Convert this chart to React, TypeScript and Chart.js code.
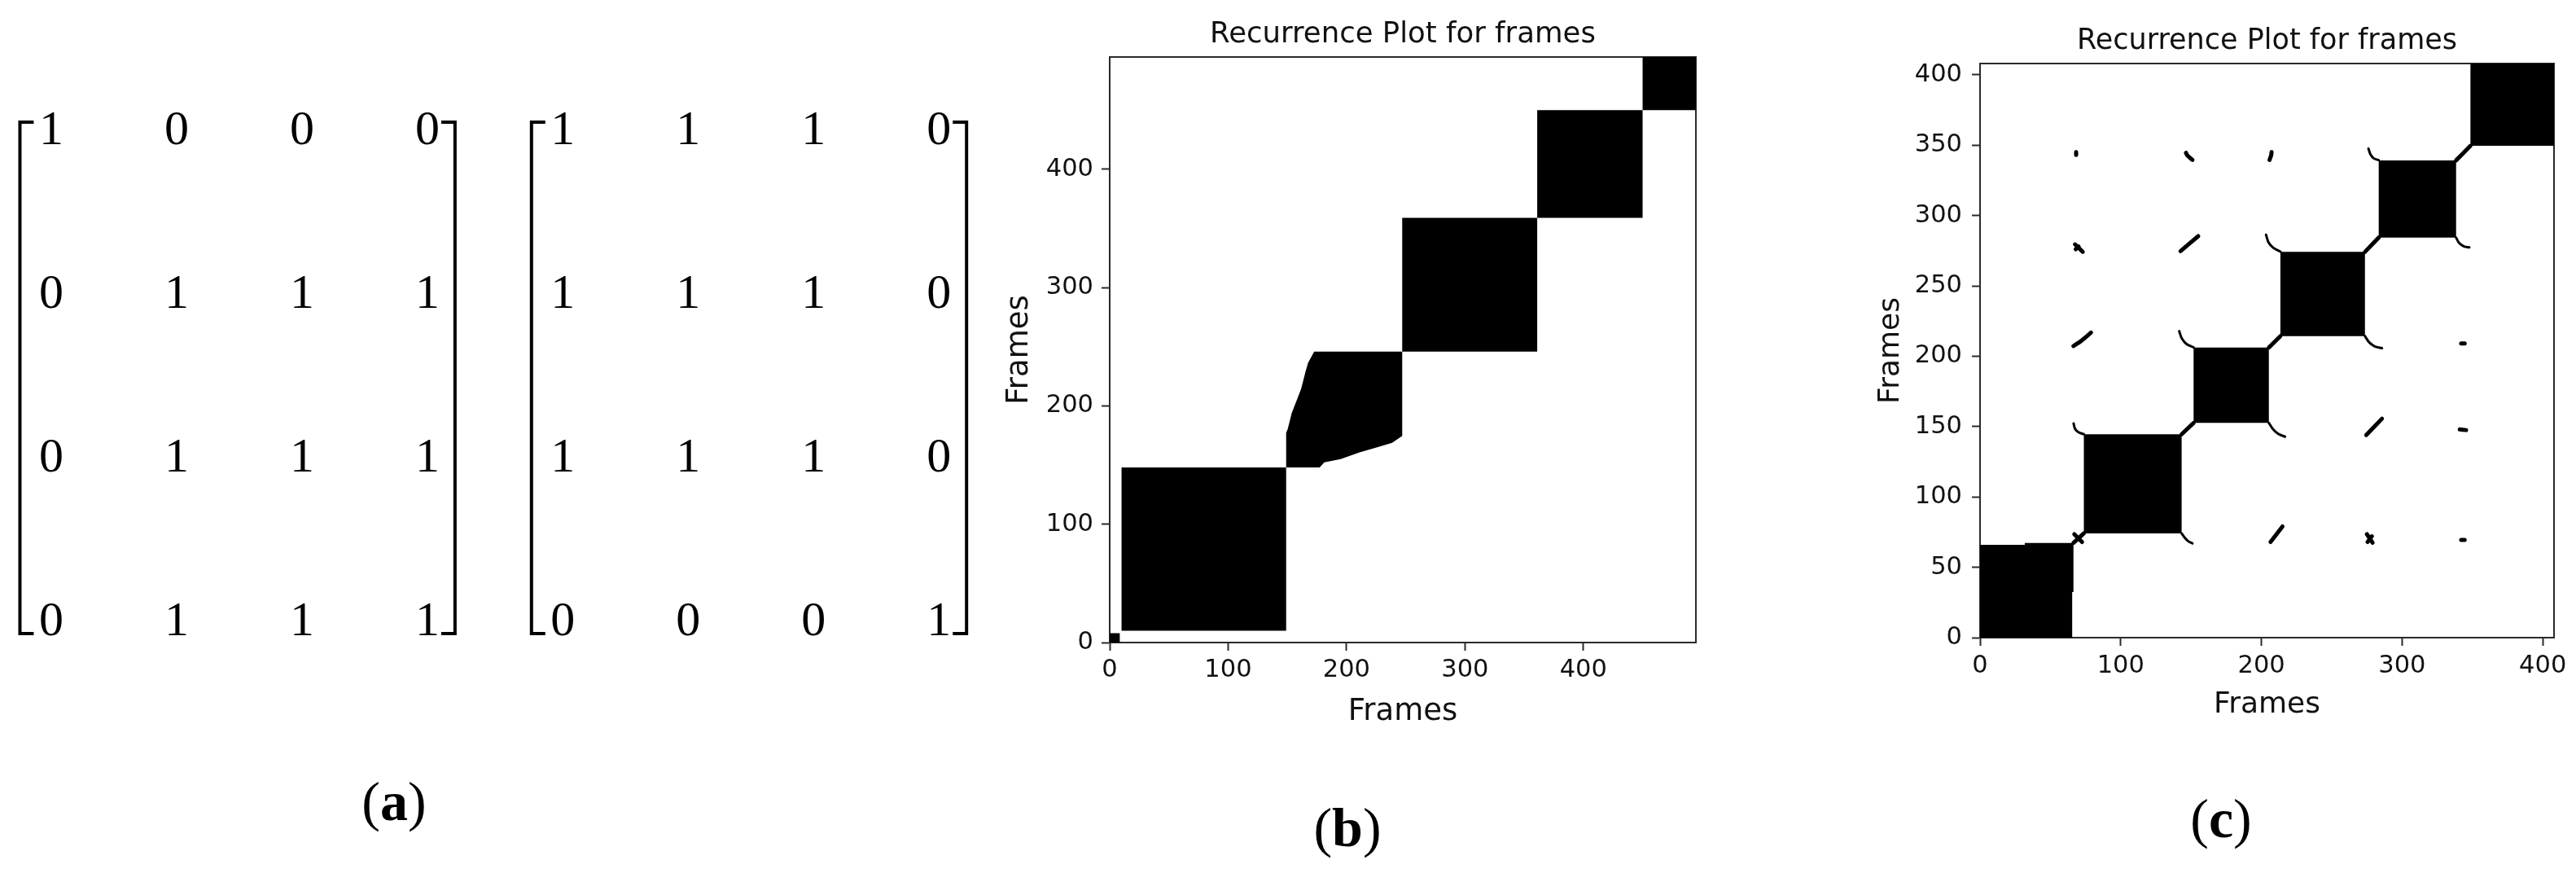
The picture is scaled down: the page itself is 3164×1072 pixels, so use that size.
import React, { useEffect, useRef } from 'react';
import { Chart, registerables } from 'chart.js';

Chart.register(...registerables);

// ---------------- (a) matrices ----------------
const matrixLeft: number[][] = [
  [1, 0, 0, 0],
  [0, 1, 1, 1],
  [0, 1, 1, 1],
  [0, 1, 1, 1],
];
const matrixRight: number[][] = [
  [1, 1, 1, 0],
  [1, 1, 1, 0],
  [1, 1, 1, 0],
  [0, 0, 0, 1],
];

// ---------------- (b) recurrence plot ----------------
const bTitle = 'Recurrence Plot for frames';
const bAxisLabel = 'Frames';
const bFrames = 495;
const bTicksX = [0, 100, 200, 300, 400];
const bTicksY = [0, 100, 200, 300, 400];
// [x0, x1, y0, y1] in frames
const bBlocks: number[][] = [
  [0, 8.5, 0, 8],
  [10, 149, 10, 148],
  [247, 361, 246, 359],
  [361, 450, 359, 450],
  [450, 495, 450, 495],
];
const bIrregular: number[][] = [
  [149, 148], [177.3, 148], [181.2, 152.4], [195, 155.1], [211, 160.8], [227, 165.4],
  [238.5, 168.9], [245, 173.4], [247, 174.5], [247, 246], [172.7, 246], [167.5, 236.4],
  [165.2, 228.4], [161.7, 214.7], [158.2, 205.5], [153.7, 194], [150.3, 180.3], [149, 177.5],
];

// ---------------- (c) recurrence plot ----------------
const cTitle = 'Recurrence Plot for frames';
const cAxisLabel = 'Frames';
const cFrames = 408;
const cTicksX = [0, 100, 200, 300, 400];
const cTicksY = [0, 50, 100, 150, 200, 250, 300, 350, 400];
const cFirstBlock: number[][] = [
  [0, 0], [65.5, 0], [65.5, 32.4], [66.4, 32.4], [66.4, 67.3], [31.8, 67.3], [31.8, 66], [0, 66],
];
const cBlocks: number[][] = [
  [73.8, 143.3, 74.1, 144.5],
  [151.8, 205.3, 152.6, 206.2],
  [213.5, 273.6, 214.3, 274.1],
  [283.4, 338.4, 284.3, 339.2],
  [348.6, 408, 349.5, 408],
];
// thin curved fillets at block corners
const cArcs: number[][][] = [
  [[66.5, 152.2], [67.5, 148.5], [70, 146], [73.8, 144.6]],
  [[143.3, 74.1], [145.5, 71], [148, 68.5], [151, 67]],
  [[141.6, 217.8], [143.5, 212.5], [147, 208.5], [151.8, 206.3]],
  [[205.3, 152.6], [208, 148.5], [212, 144.8], [216.8, 142.8]],
  [[203.3, 286.3], [205, 281], [208.5, 277], [213.5, 274.3]],
  [[273.6, 214.3], [276.5, 210], [280.5, 207], [285.7, 205.7]],
  [[276.1, 347.5], [277.5, 343.5], [280, 340.5], [283.4, 339.3]],
  [[338.4, 284.3], [340.5, 280.5], [344, 278], [347.8, 277.3]],
];
// thicker connectors and off-diagonal specks
const cMarks: number[][][] = [
  [[66.4, 67.3], [73.8, 74.1]],
  [[67, 73.5], [72.5, 68]],
  [[143.3, 144.5], [151.8, 152.6]],
  [[205.3, 206.2], [213.5, 214.3]],
  [[273.6, 274.1], [283.4, 284.3]],
  [[338.4, 339.2], [348.6, 349.5]],
  [[68.3, 345], [68.3, 343]],
  [[146.4, 344.5], [147.5, 342.5], [151, 339.5]],
  [[207.2, 345], [207, 343], [205.8, 339.5]],
  [[67.5, 279.5], [73, 274.2]],
  [[68, 276], [70, 278]],
  [[142.5, 274.7], [155.1, 285.3]],
  [[66.4, 207.2], [72, 211], [78.9, 216.8]],
  [[274.5, 144], [285.7, 155.6]],
  [[341, 148], [345.5, 147.5]],
  [[342, 209], [344.5, 209]],
  [[206.5, 68], [215, 79]],
  [[275, 73.5], [279, 67.5]],
  [[275.5, 68], [278.5, 72]],
  [[342, 69.5], [344.5, 69.5]],
];

// ---------------- helpers ----------------
const INK = '#111111';
const SPINE = '#2a2a2a';
const SANS = '"DejaVu Sans", sans-serif';
const SERIF = '"Liberation Serif", "Times New Roman", serif';

const toPts = (arr: number[][]) => arr.map(([x, y]) => ({ x, y }));
const rectPts = ([x0, x1, y0, y1]: number[]) =>
  toPts([[x0, y0], [x1, y0], [x1, y1], [x0, y1], [x0, y0]]);

function shapeDataset(points: { x: number; y: number }[]) {
  return {
    data: points,
    showLine: true,
    fill: 'shape',
    backgroundColor: '#000',
    borderColor: 'rgba(0,0,0,0)',
    borderWidth: 0,
    pointRadius: 0,
    tension: 0,
  };
}

function strokeDataset(points: { x: number; y: number }[], width: number) {
  return {
    data: points,
    showLine: true,
    fill: false,
    borderColor: '#000',
    backgroundColor: '#000',
    borderWidth: width,
    borderCapStyle: 'round',
    borderJoinStyle: 'round',
    pointRadius: 0,
    tension: 0.3,
  };
}

function plotOptions(p: {
  range: number;
  ticksX: number[];
  ticksY: number[];
  title: string;
  label: string;
  titleSize: number;
  titlePad: { top: number; bottom: number };
  labelSize: number;
  yAxisWidth: number;
  xAxisHeight: number;
  xTickPad: number;
  yTickPad: number;
  xTitlePad: number;
  yTitlePad: number;
  padRight: number;
  padBottom: number;
}) {
  const tickFont = { family: SANS, size: 30.5 };
  const grid = {
    drawOnChartArea: false,
    drawTicks: true,
    tickLength: 10,
    tickWidth: 2,
    tickColor: SPINE,
    color: SPINE,
  };
  const border = { display: true, color: SPINE, width: 2 };
  return {
    animation: false,
    responsive: false,
    events: [],
    layout: { padding: { left: 0, top: 0, right: p.padRight, bottom: p.padBottom } },
    plugins: {
      legend: { display: false },
      tooltip: { enabled: false },
      title: {
        display: true,
        text: p.title,
        fullSize: false,
        color: INK,
        font: { family: SANS, size: p.titleSize, weight: 'normal' },
        padding: p.titlePad,
      },
    },
    scales: {
      x: {
        type: 'linear',
        position: 'bottom',
        min: 0,
        max: p.range,
        afterBuildTicks: (s: any) => {
          s.ticks = p.ticksX.map((v) => ({ value: v }));
        },
        ticks: {
          autoSkip: false,
          maxRotation: 0,
          color: INK,
          font: tickFont,
          padding: p.xTickPad,
        },
        grid,
        border,
        title: {
          display: true,
          text: p.label,
          color: INK,
          font: { family: SANS, size: p.labelSize },
          padding: { top: 0, bottom: p.xTitlePad },
        },
        afterFit: (s: any) => {
          s.height = p.xAxisHeight;
        },
      },
      y: {
        type: 'linear',
        position: 'left',
        min: 0,
        max: p.range,
        afterBuildTicks: (s: any) => {
          s.ticks = p.ticksY.map((v) => ({ value: v }));
        },
        ticks: {
          autoSkip: false,
          color: INK,
          font: tickFont,
          padding: p.yTickPad,
        },
        grid,
        border,
        title: {
          display: true,
          text: p.label,
          color: INK,
          font: { family: SANS, size: p.labelSize },
          padding: { top: p.yTitlePad, bottom: 0 },
        },
        afterFit: (s: any) => {
          s.width = p.yAxisWidth;
        },
      },
      xTop: {
        type: 'linear',
        position: 'top',
        min: 0,
        max: p.range,
        ticks: { display: false },
        grid: { drawOnChartArea: false, drawTicks: false },
        border,
        afterFit: (s: any) => {
          s.height = 0;
        },
      },
      yRight: {
        type: 'linear',
        position: 'right',
        min: 0,
        max: p.range,
        ticks: { display: false },
        grid: { drawOnChartArea: false, drawTicks: false },
        border,
        afterFit: (s: any) => {
          s.width = 0;
        },
      },
    },
  };
}

// ---------------- chart configs ----------------
const A_COL_OFFSET_RIGHT = 4.08; // column index where the second matrix starts
const A_TOP = -0.035;
const A_BOTTOM = 3.09;
const A_PAD_L = 0.25;
const A_PAD_R = 0.22;
const A_HOOK = 0.11;

function bracketPts(offset: number, side: 'l' | 'r') {
  if (side === 'l') {
    const x = offset - A_PAD_L;
    return toPts([[x + A_HOOK, A_TOP], [x, A_TOP], [x, A_BOTTOM], [x + A_HOOK, A_BOTTOM]]);
  }
  const x = offset + 3 + A_PAD_R;
  return toPts([[x - A_HOOK, A_TOP], [x, A_TOP], [x, A_BOTTOM], [x - A_HOOK, A_BOTTOM]]);
}

function matrixConfig(): any {
  const bracket = (pts: any) => ({
    data: pts,
    showLine: true,
    fill: false,
    borderColor: '#000',
    borderWidth: 4,
    borderJoinStyle: 'miter',
    borderCapStyle: 'butt',
    pointRadius: 0,
    tension: 0,
  });
  const textPlugin = {
    id: 'matrixText',
    afterDatasetsDraw(chart: any) {
      const { ctx, scales } = chart;
      ctx.save();
      ctx.fillStyle = '#000';
      ctx.font = `60px ${SERIF}`;
      ctx.textAlign = 'center';
      ctx.textBaseline = 'alphabetic';
      const draw = (m: number[][], off: number) => {
        m.forEach((row, r) =>
          row.forEach((v, c) => {
            const px = scales.x.getPixelForValue(off + c);
            const py = scales.y.getPixelForValue(r);
            ctx.fillText(String(v), px, py + 20);
          })
        );
      };
      draw(matrixLeft, 0);
      draw(matrixRight, A_COL_OFFSET_RIGHT);
      ctx.restore();
    },
  };
  return {
    type: 'scatter',
    data: {
      datasets: [
        bracket(bracketPts(0, 'l')),
        bracket(bracketPts(0, 'r')),
        bracket(bracketPts(A_COL_OFFSET_RIGHT, 'l')),
        bracket(bracketPts(A_COL_OFFSET_RIGHT, 'r')),
      ],
    },
    options: {
      animation: false,
      responsive: false,
      events: [],
      layout: { padding: 0 },
      plugins: { legend: { display: false }, tooltip: { enabled: false }, title: { display: false } },
      scales: {
        x: { type: 'linear', display: false, min: -0.409, max: 7.578 },
        y: { type: 'linear', display: false, reverse: true, min: -0.781, max: 3.498 },
      },
    },
    plugins: [textPlugin],
  };
}

function bConfig(): any {
  return {
    type: 'scatter',
    data: {
      datasets: [
        ...bBlocks.map((b) => shapeDataset(rectPts(b))),
        shapeDataset(toPts([...bIrregular, bIrregular[0]])),
      ],
    },
    options: plotOptions({
      range: bFrames,
      ticksX: bTicksX,
      ticksY: bTicksY,
      title: bTitle,
      label: bAxisLabel,
      titleSize: 35.5,
      titlePad: { top: 21.7, bottom: 5.7 },
      labelSize: 37,
      yAxisWidth: 163,
      xAxisHeight: 110,
      xTickPad: 6,
      yTickPad: 10,
      xTitlePad: 2.8,
      yTitlePad: 29.8,
      padRight: 77,
      padBottom: 101,
    }),
  };
}

function cConfig(): any {
  return {
    type: 'scatter',
    data: {
      datasets: [
        shapeDataset(toPts([...cFirstBlock, cFirstBlock[0]])),
        ...cBlocks.map((b) => shapeDataset(rectPts(b))),
        ...cArcs.map((a) => strokeDataset(toPts(a), 3)),
        ...cMarks.map((m) => strokeDataset(toPts(m), 5)),
      ],
    },
    options: plotOptions({
      range: cFrames,
      ticksX: cTicksX,
      ticksY: cTicksY,
      title: cTitle,
      label: cAxisLabel,
      titleSize: 35,
      titlePad: { top: 30, bottom: 6 },
      labelSize: 36,
      yAxisWidth: 132,
      xAxisHeight: 110,
      xTickPad: 7,
      yTickPad: 12,
      xTitlePad: 5.3,
      yTitlePad: 1.5,
      padRight: 27,
      padBottom: 107,
    }),
  };
}

// ---------------- components ----------------
function ChartCanvas(props: { left: number; top: number; width: number; height: number; make: () => any }) {
  const ref = useRef<HTMLCanvasElement | null>(null);
  useEffect(() => {
    if (!ref.current) return;
    const chart = new Chart(ref.current, props.make());
    return () => chart.destroy();
  }, []);
  return (
    <canvas
      ref={ref}
      width={props.width}
      height={props.height}
      style={{ position: 'absolute', left: props.left, top: props.top, width: props.width, height: props.height }}
    />
  );
}

function PanelLabel(props: { letter: string; cx: number; cy: number }) {
  return (
    <div
      style={{
        position: 'absolute',
        left: props.cx,
        top: props.cy,
        transform: 'translate(-50%, -50%)',
        fontFamily: SERIF,
        fontSize: 68,
        lineHeight: 1,
        color: '#000',
        whiteSpace: 'nowrap',
      }}
    >
      (<b>{props.letter}</b>)
    </div>
  );
}

export default function App() {
  return (
    <div
      style={{
        position: 'fixed',
        left: 0,
        top: 0,
        width: 3164,
        height: 1072,
        background: '#fff',
        overflow: 'hidden',
      }}
    >
      <ChartCanvas left={0} top={0} width={1230} height={860} make={matrixConfig} />
      <ChartCanvas left={1200} top={0} width={960} height={1000} make={bConfig} />
      <ChartCanvas left={2300} top={0} width={864} height={1000} make={cConfig} />
      <PanelLabel letter="a" cx={484} cy={984} />
      <PanelLabel letter="b" cx={1655} cy={1016} />
      <PanelLabel letter="c" cx={2728} cy={1005} />
    </div>
  );
}
